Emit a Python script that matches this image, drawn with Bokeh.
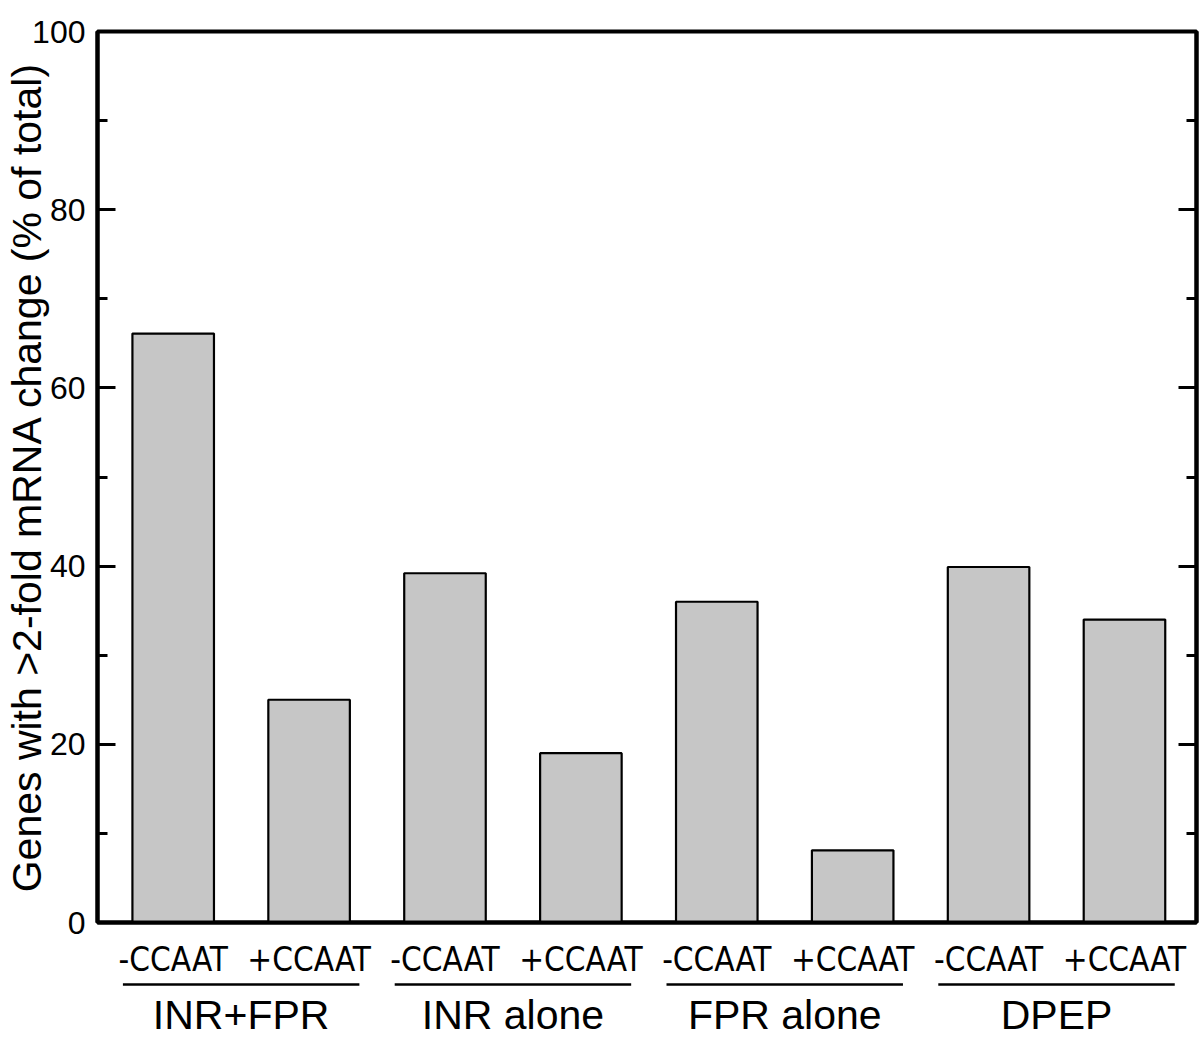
from bokeh.plotting import figure
from bokeh.layouts import column
from bokeh.models import ColumnDataSource, FixedTicker, LinearAxis, Range1d
from bokeh.core.properties import value
from bokeh.embed import file_html
from bokeh.resources import INLINE

# ---- data ----
sub_labels = ["-CCAAT", "+CCAAT", "-CCAAT", "+CCAAT", "-CCAAT", "+CCAAT", "-CCAAT", "+CCAAT"]
group_labels = ["INR+FPR", "INR alone", "FPR alone", "DPEP"]
percent_changed = [66.1, 25.0, 39.2, 19.0, 36.0, 8.1, 39.9, 34.0]
y_ticks_major = [0, 20, 40, 60, 80, 100]
y_ticks_minor = [10, 30, 50, 70, 90]
y_title = "Genes with >2-fold mRNA change (% of total)"

FONT = "Liberation Sans"
NARROW = "DejaVu Sans Condensed"

xpos = list(range(len(percent_changed)))
x_range = Range1d(-0.557, 7.53)

LEFT = 97
RIGHT = 4
TOP = 31
FRAME_W = 1099
FRAME_H = 897
BOTTOM = 53
W = LEFT + FRAME_W + RIGHT

p = figure(width=W, height=TOP + FRAME_H + BOTTOM, x_range=x_range,
           y_range=Range1d(0, 100), output_backend="svg", toolbar_location=None,
           min_border_left=LEFT, min_border_right=RIGHT, min_border_top=TOP,
           min_border_bottom=BOTTOM, y_axis_location=None)
p.grid.visible = False
p.outline_line_color = "black"
p.outline_line_width = 4
p.background_fill_color = "white"
p.border_fill_color = "white"

src = ColumnDataSource(dict(x=xpos, top=percent_changed))
p.vbar(x="x", top="top", bottom=0, width=0.6, source=src,
       fill_color="#c6c6c6", line_color="black", line_width=2.2)

# x axis: subgroup labels
xa = p.xaxis[0]
xa.ticker = FixedTicker(ticks=xpos)
xa.major_label_overrides = {i: s for i, s in enumerate(sub_labels)}
xa.major_tick_line_color = None
xa.minor_tick_line_color = None
xa.axis_line_width = 4
xa.major_label_text_font = NARROW
xa.major_label_text_font_size = "33px"
xa.major_label_text_color = "black"
xa.major_label_standoff = 11

def make_y_axis(show_labels):
    ax = LinearAxis(ticker=FixedTicker(ticks=y_ticks_major, minor_ticks=y_ticks_minor))
    ax.axis_line_width = 4
    ax.major_tick_in = 18
    ax.major_tick_out = 0
    ax.minor_tick_in = 10
    ax.minor_tick_out = 0
    ax.major_tick_line_width = 3
    ax.minor_tick_line_width = 3
    ax.major_label_text_font = FONT
    if show_labels:
        ax.major_label_text_color = "black"
        ax.major_label_text_font_size = "32px"
        ax.major_label_standoff = 12
        ax.axis_label = y_title
        ax.axis_label_text_font = FONT
        ax.axis_label_text_font_style = "normal"
        ax.axis_label_text_font_size = "41px"
        ax.axis_label_text_color = "black"
        ax.axis_label_standoff = -21
    else:
        ax.major_label_text_color = None
        ax.major_label_text_font_size = "1px"
        ax.major_label_standoff = 0
    return ax

p.add_layout(make_y_axis(True), "left")
p.add_layout(make_y_axis(False), "right")

# group underlines and labels in a strip below
g = figure(width=W, height=55, x_range=x_range, y_range=Range1d(0, 55),
           output_backend="svg", toolbar_location=None,
           min_border_left=LEFT, min_border_right=RIGHT, min_border_top=0,
           min_border_bottom=0, x_axis_location=None, y_axis_location=None)
g.grid.visible = False
g.outline_line_color = None
gx = [2 * i + 0.5 for i in range(len(group_labels))]
gsrc = ColumnDataSource(dict(x0=[c - 0.87 for c in gx], x1=[c + 0.87 for c in gx],
                             x=gx, lab=group_labels))
g.segment(x0="x0", x1="x1", y0=52, y1=52, source=gsrc, line_color="black", line_width=2.5)
g.text(x="x", y=22, text="lab", source=gsrc, text_align="center",
       text_baseline="middle", text_font=value(FONT), text_font_size="41px",
       text_color="black")

layout = column(p, g, spacing=0)
open("out.html", "w").write(file_html(layout, INLINE))
